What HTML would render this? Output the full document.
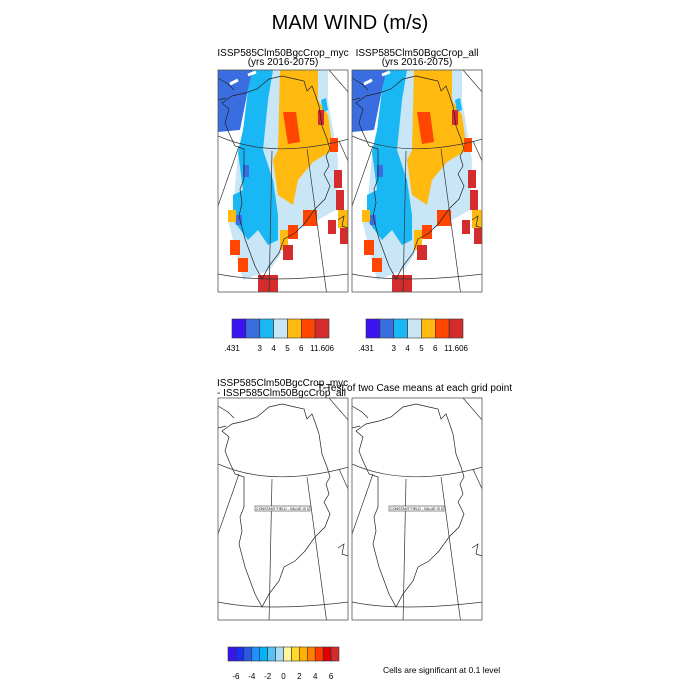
<!DOCTYPE html>
<html><head><meta charset="utf-8"><style>
html,body{margin:0;padding:0;background:#fff;}
svg{display:block;font-family:"Liberation Sans",Arial,sans-serif;}
</style></head><body>
<svg id="fig" width="700" height="700" viewBox="0 0 700 700">
<defs>
<clipPath id="pc"><rect x="0" y="0" width="130" height="222"/></clipPath>
<g id="grid">
<path d="M0,66 Q54,90 131,69" fill="none" stroke="#333" stroke-width="0.7"/>
<path d="M0,204 Q47,214 131,204" fill="none" stroke="#333" stroke-width="0.7"/>
<path d="M21,76 L0,136 M54,81 L51,226 M89,79 L109,226 M121,71 L131,93 M111,0 L131,23" fill="none" stroke="#333" stroke-width="0.7"/>
</g>
<g id="coast">
<path d="M39,19 L51,9 L64,6 L77,9 L86,11 L89,21 L94,16 L97,24 L101,36 L104,56 L109,69 L112,79 L108,86 L111,96 L106,104 L112,116 L107,129 L97,139 L87,153 L77,163 L66,169 L61,183 L51,196 L44,209 L37,196 L27,169 L21,146 L24,133 L22,119 L26,109 L26,79 L17,76 L11,63 L7,53 L11,39 L4,33 L14,26 L27,23 Z" fill="none" stroke="#222" stroke-width="0.7"/>
<path d="M0,8 L10,14 L16,20 M0,30 L8,28 M120,150 L126,146 L124,156 L130,158" fill="none" stroke="#222" stroke-width="0.7"/>
</g>
<g id="field">
<polygon points="55,0 110,0 110,30 115,60 120,90 118,140 100,150 70,165 62,185 52,200 25,210 15,170 10,150 15,140 20,82 40,78" fill="#c8e6f5"/>
<polygon points="0,0 35,0 30,20 22,60 0,62" fill="#3a6ee0"/>
<polygon points="35,0 55,0 50,30 45,80 55,110 60,145 60,170 50,175 40,160 30,170 15,150 15,125 25,120 20,82 25,60 30,20" fill="#19b8f5"/>
<polygon points="62,0 100,0 100,30 110,45 115,80 95,92 80,110 75,135 60,125 55,90 60,80" fill="#ffb90f"/>
<polygon points="65,42 78,42 82,72 70,74" fill="#ff4500"/>
<rect x="25" y="95" width="6" height="12" fill="#3a6ee0"/>
<rect x="18" y="145" width="6" height="10" fill="#3a6ee0"/>
<polygon points="103,30 108,28 110,40 105,42" fill="#19b8f5"/>
<rect x="100" y="40" width="6" height="15" fill="#d42c2c"/>
<rect x="112" y="68" width="8" height="14" fill="#ff4500"/>
<rect x="116" y="100" width="8" height="18" fill="#d42c2c"/>
<rect x="118" y="120" width="8" height="20" fill="#d42c2c"/>
<rect x="120" y="140" width="10" height="18" fill="#ffb90f"/>
<rect x="122" y="158" width="8" height="16" fill="#d42c2c"/>
<rect x="110" y="150" width="8" height="14" fill="#d42c2c"/>
<rect x="85" y="140" width="14" height="16" fill="#ff4500"/>
<rect x="70" y="155" width="10" height="14" fill="#ff4500"/>
<rect x="62" y="160" width="8" height="20" fill="#ffb90f"/>
<rect x="65" y="175" width="10" height="15" fill="#d42c2c"/>
<rect x="10" y="140" width="8" height="12" fill="#ffb90f"/>
<rect x="12" y="170" width="10" height="15" fill="#ff4500"/>
<rect x="20" y="188" width="10" height="14" fill="#ff4500"/>
<rect x="40" y="205" width="20" height="17" fill="#d42c2c"/>
<path d="M30,5 L38,2 M12,14 L20,10" stroke="#fff" stroke-width="3"/>
</g>
</defs>

<text x="350" y="29" font-size="20" text-anchor="middle">MAM WIND (m/s)</text>

<g>
<text x="283" y="56" font-size="10" text-anchor="middle">ISSP585Clm50BgcCrop_myc</text>
<text x="283" y="65" font-size="10" text-anchor="middle">(yrs 2016-2075)</text>
<g transform="translate(218,70)" clip-path="url(#pc)">
<use href="#field"/><use href="#coast"/><use href="#grid"/></g>
<rect x="218" y="70" width="130" height="222" fill="none" stroke="#555" stroke-width="0.8"/>
</g>

<g>
<text x="417" y="56" font-size="10" text-anchor="middle">ISSP585Clm50BgcCrop_all</text>
<text x="417" y="65" font-size="10" text-anchor="middle">(yrs 2016-2075)</text>
<g transform="translate(352,70)" clip-path="url(#pc)">
<use href="#field"/><use href="#coast"/><use href="#grid"/></g>
<rect x="352" y="70" width="130" height="222" fill="none" stroke="#555" stroke-width="0.8"/>
</g>

<text x="217" y="386" font-size="10">ISSP585Clm50BgcCrop_myc</text>
<text x="217" y="396" font-size="10"> - ISSP585Clm50BgcCrop_all</text>
<text x="317" y="391" font-size="10">T-Test of two Case means at each grid point</text>

<g>
<g transform="translate(218,398)" clip-path="url(#pc)"><use href="#coast"/><use href="#grid"/>
<rect x="37" y="108" width="55" height="5" fill="#fff" stroke="#444" stroke-width="0.6"/>
<text x="64.5" y="112" font-size="3.6" text-anchor="middle">CONSTANT FIELD - VALUE IS 0</text></g>
<rect x="218" y="398" width="130" height="222" fill="none" stroke="#555" stroke-width="0.8"/>
</g>
<g>
<g transform="translate(352,398)" clip-path="url(#pc)"><use href="#coast"/><use href="#grid"/>
<rect x="37" y="108" width="55" height="5" fill="#fff" stroke="#444" stroke-width="0.6"/>
<text x="64.5" y="112" font-size="3.6" text-anchor="middle">CONSTANT FIELD - VALUE IS 0</text></g>
<rect x="352" y="398" width="130" height="222" fill="none" stroke="#555" stroke-width="0.8"/>
</g>

<g id="cbars"></g>
<text x="383" y="673" font-size="8.5">Cells are significant at 0.1 level</text>
</svg>
<script>
const windColors = ["#3a14f0","#3a6ee0","#19b8f5","#c8e6f5","#ffb90f","#ff4500","#d42c2c"];
const windTickLabels = [".431","3","4","5","6","11.606"];
const windTickIndex = [0.0,2,3,4,5,6.5];
const diffColors = ["#3a14f0","#1a2ef0","#2a5ae0","#1e90ff","#00b4f5","#5ac0f0","#aadcf5","#fff59a","#ffd92e","#ffb000","#ff7f00","#ff3c00","#e00000","#d42c2c"];
const diffTickLabels = ["-6","-4","-2","0","2","4","6"];
const diffTickIndex = [1,3,5,7,9,11,13];
const NS="http://www.w3.org/2000/svg";
const g=document.getElementById('cbars');
function bar(x0,y0,w,h,colors,labels,idx,name,ly){
  const bw=w/colors.length;
  const grp=document.createElementNS(NS,'g');
  
  
  colors.forEach((c,i)=>{
    const r=document.createElementNS(NS,'rect');
    r.setAttribute('x',x0+i*bw);r.setAttribute('y',y0);r.setAttribute('width',bw);r.setAttribute('height',h);
    r.setAttribute('fill',c);r.setAttribute('stroke','#333');r.setAttribute('stroke-width','0.6');
    
    
    grp.appendChild(r);
  });
  labels.forEach((l,i)=>{
    const t=document.createElementNS(NS,'text');
    t.setAttribute('x',x0+idx[i]*bw);t.setAttribute('y',ly);t.setAttribute('font-size','8');
    t.setAttribute('text-anchor','middle');t.textContent=l;
    
    
    grp.appendChild(t);
  });
  g.appendChild(grp);
}
bar(232,319,97,19,windColors,windTickLabels,windTickIndex,'colorbar-myc',351);
bar(366,319,97,19,windColors,windTickLabels,windTickIndex,'colorbar-all',351);
bar(228,647,111,14,diffColors,diffTickLabels,diffTickIndex,'colorbar-diff',679);
</script>
</body></html>
